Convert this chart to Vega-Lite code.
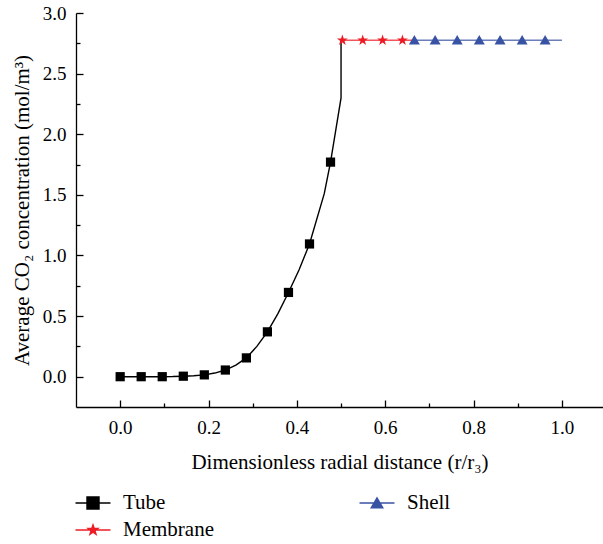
{
  "$schema": "https://vega.github.io/schema/vega-lite/v6.json",
  "autosize": {"type": "none"},
  "padding": {"left": 76, "top": 13, "right": 0, "bottom": 137},
  "width": 527,
  "height": 394,
  "background": "white",
  "config": {
    "font": "Liberation Serif",
    "view": {"stroke": null},
    "axis": {
      "domainColor": "black",
      "domainWidth": 1.3,
      "tickColor": "black",
      "tickWidth": 1.3,
      "labelColor": "black",
      "titleColor": "black",
      "labelFontSize": 19,
      "titleFontSize": 21,
      "titleFontWeight": "normal",
      "grid": false
    }
  },
  "datasets": {
    "lines": [
      {"series": "Tube", "i": 0, "r": 0, "c": 0},
      {"series": "Tube", "i": 1, "r": 0.0238, "c": 0},
      {"series": "Tube", "i": 2, "r": 0.0476, "c": 0},
      {"series": "Tube", "i": 3, "r": 0.0714, "c": 0},
      {"series": "Tube", "i": 4, "r": 0.0952, "c": 0},
      {"series": "Tube", "i": 5, "r": 0.119, "c": 0.001},
      {"series": "Tube", "i": 6, "r": 0.1429, "c": 0.004},
      {"series": "Tube", "i": 7, "r": 0.1667, "c": 0.008},
      {"series": "Tube", "i": 8, "r": 0.1905, "c": 0.015},
      {"series": "Tube", "i": 9, "r": 0.2143, "c": 0.03},
      {"series": "Tube", "i": 10, "r": 0.2381, "c": 0.055},
      {"series": "Tube", "i": 11, "r": 0.2619, "c": 0.095},
      {"series": "Tube", "i": 12, "r": 0.2857, "c": 0.155},
      {"series": "Tube", "i": 13, "r": 0.3095, "c": 0.25},
      {"series": "Tube", "i": 14, "r": 0.3333, "c": 0.37},
      {"series": "Tube", "i": 15, "r": 0.3571, "c": 0.52},
      {"series": "Tube", "i": 16, "r": 0.381, "c": 0.695},
      {"series": "Tube", "i": 17, "r": 0.4048, "c": 0.88},
      {"series": "Tube", "i": 18, "r": 0.4286, "c": 1.095},
      {"series": "Tube", "i": 19, "r": 0.462, "c": 1.51},
      {"series": "Tube", "i": 20, "r": 0.4762, "c": 1.77},
      {"series": "Tube", "i": 21, "r": 0.5, "c": 2.3},
      {"series": "Tube", "i": 22, "r": 0.5, "c": 2.775},
      {"series": "Membrane", "i": 0, "r": 0.5, "c": 2.775},
      {"series": "Membrane", "i": 1, "r": 0.667, "c": 2.775},
      {"series": "Shell", "i": 0, "r": 0.667, "c": 2.775},
      {"series": "Shell", "i": 1, "r": 1.0, "c": 2.775}
    ],
    "markers": [
      {"series": "Tube", "r": 0, "c": 0},
      {"series": "Tube", "r": 0.0476, "c": 0},
      {"series": "Tube", "r": 0.0952, "c": 0},
      {"series": "Tube", "r": 0.1429, "c": 0.004},
      {"series": "Tube", "r": 0.1905, "c": 0.015},
      {"series": "Tube", "r": 0.2381, "c": 0.055},
      {"series": "Tube", "r": 0.2857, "c": 0.155},
      {"series": "Tube", "r": 0.3333, "c": 0.37},
      {"series": "Tube", "r": 0.381, "c": 0.695},
      {"series": "Tube", "r": 0.4286, "c": 1.095},
      {"series": "Tube", "r": 0.4762, "c": 1.77},
      {"series": "Membrane", "r": 0.503, "c": 2.775},
      {"series": "Membrane", "r": 0.549, "c": 2.775},
      {"series": "Membrane", "r": 0.594, "c": 2.775},
      {"series": "Membrane", "r": 0.639, "c": 2.775},
      {"series": "Shell", "r": 0.666, "c": 2.775},
      {"series": "Shell", "r": 0.713, "c": 2.775},
      {"series": "Shell", "r": 0.763, "c": 2.775},
      {"series": "Shell", "r": 0.813, "c": 2.775},
      {"series": "Shell", "r": 0.86, "c": 2.775},
      {"series": "Shell", "r": 0.91, "c": 2.775},
      {"series": "Shell", "r": 0.962, "c": 2.775}
    ]
  },
  "encoding": {
    "x": {
      "field": "r",
      "type": "quantitative",
      "scale": {"domain": [-0.1, 1.093], "nice": false, "zero": false},
      "axis": {
        "title": "Dimensionless radial distance (r/r₃)",
        "values": [0, 0.1, 0.2, 0.3, 0.4, 0.5, 0.6, 0.7, 0.8, 0.9, 1.0],
        "labelExpr": "round(datum.value*10) % 2 == 0 ? format(datum.value, '.1f') : ''",
        "tickSize": {"condition": {"test": "round(datum.value*10) % 2 == 1", "value": -4}, "value": -7},
        "labelPadding": 18,
        "titlePadding": 11,
        "labelFlush": false,
        "labelOverlap": false
      }
    },
    "y": {
      "field": "c",
      "type": "quantitative",
      "scale": {"domain": [-0.25, 3.0], "nice": false, "zero": false},
      "axis": {
        "title": "Average CO₂ concentration (mol/m³)",
        "values": [0, 0.25, 0.5, 0.75, 1.0, 1.25, 1.5, 1.75, 2.0, 2.25, 2.5, 2.75, 3.0],
        "labelExpr": "round(datum.value*4) % 2 == 0 ? format(datum.value, '.1f') : ''",
        "tickSize": {"condition": {"test": "round(datum.value*4) % 2 == 1", "value": -4}, "value": -7},
        "labelPadding": 17,
        "titlePadding": 10,
        "labelFlush": false,
        "labelOverlap": false
      }
    },
    "color": {
      "field": "series",
      "type": "nominal",
      "scale": {"domain": ["Tube", "Shell", "Membrane"], "range": ["#000000", "#3953a4", "#ed1c24"]},
      "legend": {
        "orient": "none",
        "legendX": 3,
        "legendY": 476,
        "title": null,
        "columns": 2,
        "direction": "horizontal",
        "columnPadding": 145,
        "rowPadding": 3,
        "symbolSize": 784,
        "symbolOpacity": 1,
        "symbolStrokeWidth": 0,
        "labelFontSize": 21,
        "labelColor": "black",
        "labelOffset": 16,
        "labelFont": "Liberation Serif"
      }
    }
  },
  "layer": [
    {
      "data": {"name": "lines"},
      "mark": {"type": "line", "strokeWidth": 1.4},
      "encoding": {
        "order": {"field": "i", "type": "quantitative"},
        "opacity": {"condition": {"test": "datum.series === 'Tube'", "value": 1}, "value": 0.75}
      }
    },
    {
      "data": {"name": "markers"},
      "transform": [{"filter": "datum.series === 'none'"}],
      "mark": {"type": "point", "filled": true, "opacity": 1, "size": 784},
      "encoding": {
        "shape": {
          "field": "series",
          "type": "nominal",
          "scale": {
            "domain": ["Tube", "Shell", "Membrane"],
            "range": [
              "M-1.25,-0.05H1.25V0.05H-1.25ZM-0.48,-0.48H0.48V0.48H-0.48Z",
              "M-1.25,-0.05H1.25V0.05H-1.25ZM-0.5,0.4L0,-0.47L0.5,0.4Z",
              "M-1.25,-0.05H1.25V0.05H-1.25ZM0,-0.52L0.122,-0.168L0.495,-0.161L0.198,0.064L0.306,0.42L0,0.208L-0.306,0.42L-0.198,0.064L-0.495,-0.161L-0.122,-0.168Z"
            ]
          }
        }
      }
    },
    {
      "data": {"name": "markers"},
      "transform": [{"filter": "datum.series === 'Tube'"}],
      "mark": {"type": "point", "filled": true, "opacity": 1, "shape": "square", "size": 85}
    },
    {
      "data": {"name": "markers"},
      "transform": [{"filter": "datum.series === 'Membrane'"}],
      "mark": {"type": "point", "filled": true, "opacity": 1, "size": 130, "shape": "M0,-1L0.235,-0.324L0.951,-0.309L0.380,0.124L0.588,0.809L0,0.4L-0.588,0.809L-0.380,0.124L-0.951,-0.309L-0.235,-0.324Z"}
    },
    {
      "data": {"name": "markers"},
      "transform": [{"filter": "datum.series === 'Shell'"}],
      "mark": {"type": "point", "filled": true, "opacity": 1, "size": 120, "shape": "M-1,0.75L0,-0.95L1,0.75Z"}
    }
  ]
}
